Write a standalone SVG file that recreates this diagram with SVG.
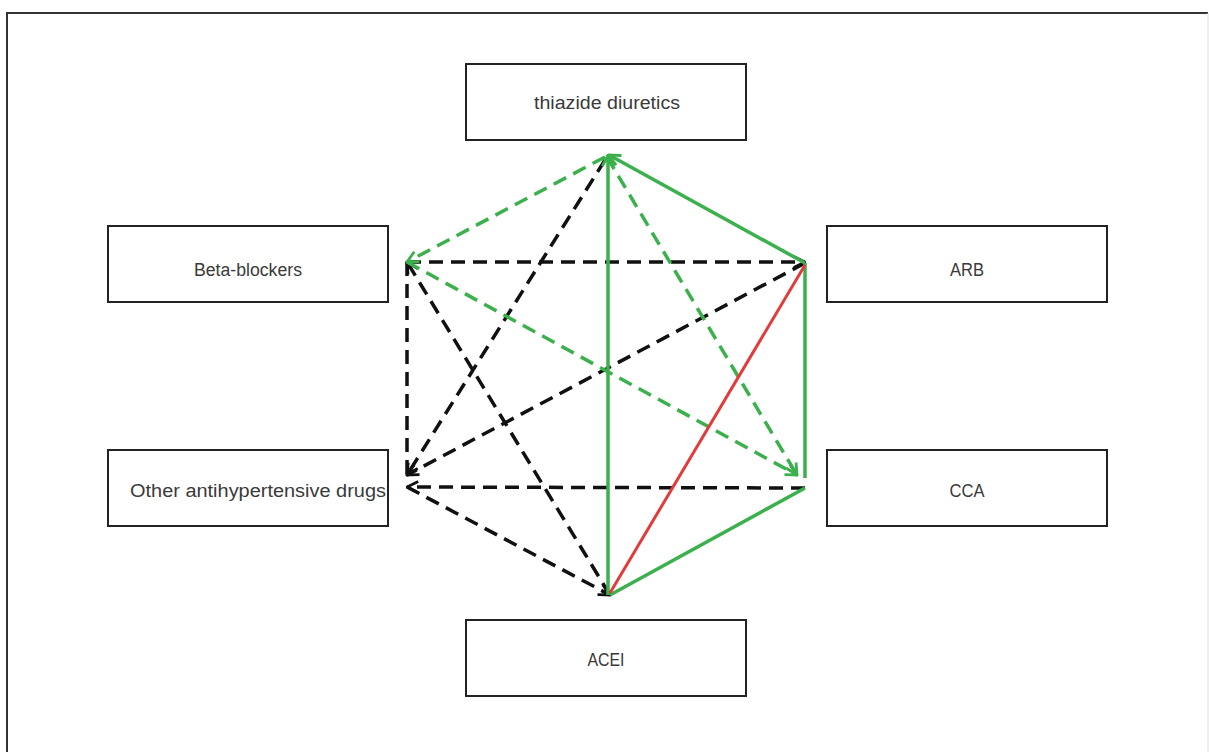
<svg xmlns="http://www.w3.org/2000/svg" width="1209" height="752" viewBox="0 0 1209 752">
<defs>
<style>
.box{fill:#fff;stroke:#222;stroke-width:2}
.lbl{font-family:"Liberation Sans",Arial,sans-serif;font-size:18px;fill:#3a3a3a;text-anchor:middle}
.g{stroke:#3bb04c;stroke-width:3.5;fill:none}
.gd{stroke:#3bb04c;stroke-width:3.5;fill:none;stroke-dasharray:14 8}
.k{stroke:#111;stroke-width:3.5;fill:none;stroke-dasharray:14 8}
.r{stroke:#e23b3b;stroke-width:3;fill:none}
</style>
<marker id="ag" viewBox="0 0 10 10" refX="9" refY="5" markerWidth="4" markerHeight="4" orient="auto" markerUnits="strokeWidth"><path d="M1,1 L9,5 L1,9" fill="none" stroke="#3bb04c" stroke-width="2"/></marker>
<marker id="ak" viewBox="0 0 10 10" refX="9" refY="5" markerWidth="4" markerHeight="4" orient="auto" markerUnits="strokeWidth"><path d="M1,1 L9,5 L1,9" fill="none" stroke="#111" stroke-width="2"/></marker>
</defs>
<rect width="1209" height="752" fill="#fff"/>
<path d="M7,760 L7,13 L1208,13" fill="none" stroke="#333" stroke-width="2"/>
<line x1="1208" y1="13" x2="1208" y2="752" stroke="#ddd" stroke-width="1"/>
<g id="connectors">
<line class="k" x1="407" y1="262" x2="805" y2="262" marker-end="url(#ak)"/>
<line class="k" x1="407" y1="262" x2="407" y2="475"/>
<line class="k" x1="610" y1="595" x2="407" y2="262" marker-end="url(#ak)"/>
<line class="k" x1="605" y1="160" x2="407" y2="475" marker-end="url(#ak)"/>
<line class="k" x1="805" y1="263" x2="407" y2="475" marker-end="url(#ak)"/>
<line class="k" x1="805" y1="488" x2="407" y2="487" marker-end="url(#ak)"/>
<line class="k" x1="407" y1="487" x2="610" y2="595" marker-end="url(#ak)"/>
<line class="gd" x1="605" y1="157" x2="407" y2="262" marker-end="url(#ag)"/>
<line class="gd" x1="607" y1="157" x2="797" y2="475" marker-end="url(#ag)"/>
<line class="gd" x1="407" y1="262" x2="797" y2="475" marker-end="url(#ag)"/>
<line class="g" x1="608" y1="595" x2="608" y2="155" marker-end="url(#ag)"/>
<line class="g" x1="805" y1="263" x2="609" y2="155" marker-end="url(#ag)"/>
<line class="g" x1="805" y1="263" x2="805" y2="478"/>
<line class="g" x1="805" y1="488" x2="610" y2="595"/>
<line class="r" x1="805" y1="265" x2="610" y2="593"/>
</g>
<g id="thiazide"><rect class="box" x="466" y="64" width="280" height="76"/><text class="lbl" x="607" y="109" textLength="146" lengthAdjust="spacingAndGlyphs">thiazide diuretics</text></g>
<g id="beta"><rect class="box" x="108" y="226" width="280" height="76"/><text class="lbl" x="248" y="276" textLength="108" lengthAdjust="spacingAndGlyphs">Beta-blockers</text></g>
<g id="arb"><rect class="box" x="827" y="226" width="280" height="76"/><text class="lbl" x="967" y="276" textLength="34" lengthAdjust="spacingAndGlyphs">ARB</text></g>
<g id="other"><rect class="box" x="108" y="450" width="280" height="76"/><text class="lbl" x="258" y="497" textLength="256" lengthAdjust="spacingAndGlyphs">Other antihypertensive drugs</text></g>
<g id="cca"><rect class="box" x="827" y="450" width="280" height="76"/><text class="lbl" x="967" y="497" textLength="35" lengthAdjust="spacingAndGlyphs">CCA</text></g>
<g id="acei"><rect class="box" x="466" y="620" width="280" height="76"/><text class="lbl" x="606" y="666" textLength="37" lengthAdjust="spacingAndGlyphs">ACEI</text></g>
</svg>
